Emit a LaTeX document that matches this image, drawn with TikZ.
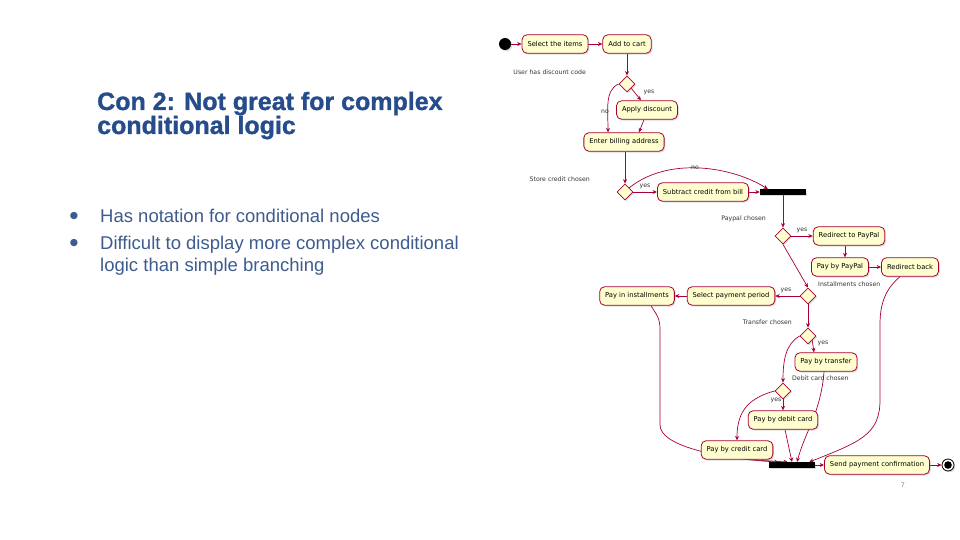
\documentclass[tikz,border=0pt]{standalone}
\usepackage{fontspec}
\usetikzlibrary{shapes.geometric,arrows.meta,calc,shadows}
\setmainfont{Liberation Sans}
\newfontfamily\umlfont{DejaVu Sans}
\newfontfamily\headfont[FakeBold=1.2]{Liberation Sans Bold}
\definecolor{umlred}{HTML}{A80036}
\definecolor{umlfill}{HTML}{FEFECE}
\definecolor{titleblue}{HTML}{264C8C}
\definecolor{bodyblue}{HTML}{3D5B8F}
\pgfdeclarelayer{wires}
\pgfsetlayers{wires,main}

\begin{document}
\begin{tikzpicture}[x=1pt,y=-1pt,
  every node/.style={inner sep=0pt},
  umlshadow/.style={drop shadow={shadow xshift=1.3pt, shadow yshift=-1.3pt, opacity=0.28}},
  act/.style={draw=umlred, fill=umlfill, line width=0.8pt, rounded corners=5pt,
    minimum height=18.5pt, inner xsep=5.5pt,
    font=\umlfont\fontsize{6.75}{8}\selectfont, umlshadow},
  dec/.style={diamond, draw=umlred, fill=umlfill, line width=0.8pt,
    minimum width=16pt, minimum height=16pt, umlshadow},
  syncbar/.style={rectangle, fill=black, minimum width=46pt, minimum height=5.5pt, umlshadow},
  flow/.style={draw=umlred, line width=0.7pt, -{Stealth[length=4.5pt,width=4pt]}},
  guard/.style={font=\umlfont\fontsize{6.2}{7}\selectfont, text=black!80},
  bullet/.style={font=\umlfont\fontsize{9.5}{10}\selectfont, text=bodyblue},
  body/.style={font=\fontsize{18.5}{22}\selectfont, text=bodyblue, anchor=base west},
  heading/.style={font=\headfont\fontsize{25}{28}\selectfont, text=titleblue, anchor=base west}
]
\useasboundingbox (0,0) rectangle (960,540);

% slide text
\node[heading] (t1) at (97,110) {Con 2: Not great for complex};
\node[heading] (t2) at (97,134) {conditional logic};
\node[bullet] (b1) at (74,216) {●};
\node[body] (l1) at (100,222) {Has notation for conditional nodes};
\node[bullet] (b2) at (74,243) {●};
\node[body] (l2) at (100,249) {Difficult to display more complex conditional};
\node[body] (l3) at (100,271) {logic than simple branching};
\node[font=\fontsize{6.5}{7}\selectfont, text=black!55] (pg) at (903,485) {7};

% activity diagram: nodes
\node[circle, fill=black, minimum size=12pt, umlshadow] (start) at (505,44) {};
\node[act] (sel) at (555,44) {Select the items};
\node[act] (cart) at (627,44) {Add to cart};
\node[dec] (d1) at (627,84) {};
\node[act] (apply) at (647,110) {Apply discount};
\node[act] (bill) at (624,142) {Enter billing address};
\node[dec] (d2) at (625,192) {};
\node[act] (sub) at (703,192) {Subtract credit from bill};
\node[syncbar] (bar1) at (783,192) {};
\node[dec] (d3) at (783,236) {};
\node[act] (rpp) at (849,236) {Redirect to PayPal};
\node[act] (ppp) at (840,267) {Pay by PayPal};
\node[act] (rb) at (910,267) {Redirect back};
\node[dec] (d4) at (808,296) {};
\node[act] (spp) at (731,296) {Select payment period};
\node[act] (pin) at (637,296) {Pay in installments};
\node[dec] (d5) at (808,336) {};
\node[act] (ptr) at (826,362) {Pay by transfer};
\node[dec] (d6) at (783,391) {};
\node[act] (pdc) at (783,420) {Pay by debit card};
\node[act] (pcc) at (737,450) {Pay by credit card};
\node[syncbar] (bar2) at (792,465) {};
\node[act] (spc) at (877,465) {Send payment confirmation};
\node[circle, draw=black, line width=0.8pt, fill=white, minimum size=12pt, umlshadow] (end) at (948,465) {};
\fill[black] (end.center) circle (3.8pt);

% guard labels
\node[guard, anchor=east] (g1) at (586,72) {User has discount code};
\node[guard] (y1) at (649,92) {yes};
\node[guard] (n1) at (605,112) {no};
\node[guard, anchor=east] (g2) at (590,179) {Store credit chosen};
\node[guard] (y2) at (645,186) {yes};
\node[guard] (n2) at (695,168) {no};
\node[guard, anchor=east] (g3) at (766,219) {Paypal chosen};
\node[guard] (y3) at (802,230) {yes};
\node[guard, anchor=west] (g4) at (818,284) {Installments chosen};
\node[guard] (y4) at (786,290) {yes};
\node[guard, anchor=east] (g5) at (792,322) {Transfer chosen};
\node[guard] (y5) at (823,343) {yes};
\node[guard, anchor=west] (g6) at (792,378) {Debit card chosen};
\node[guard] (y6) at (776,400) {yes};

% routing points of the long joins
\coordinate (rbA) at (880,325);
\coordinate (rbB) at (880,400);
\coordinate (pinA) at (660,330);
\coordinate (pinB) at (660,425);

% connectors, kept beneath the boxes
\begin{pgfonlayer}{wires}
\draw[flow] (start) -- (sel);
\draw[flow] (sel) -- (cart);
\draw[flow] (cart) -- (d1);
\draw[flow] (d1.south east) -- ($(apply.north)+(-6,0)$);
\draw[flow] (d1.west) .. controls +(-14,6) and +(0,-22) .. ($(bill.north)+(-16,0)$);
\draw[flow] ($(apply.south)+(-3,0)$) -- ($(bill.north)+(15,0)$);
\draw[flow] (bill.south -| d2) -- (d2.north);
\draw[flow] (d2) -- (sub);
\draw[flow] (d2.north east) .. controls +(40,-32) and +(-35,-22) .. ($(bar1.north west)+(8,0)$);
\draw[flow] (sub) -- (bar1);
\draw[flow] (bar1) -- (d3);
\draw[flow] (d3) -- (rpp);
\draw[flow] ($(rpp.south)+(-4,0)$) -- ($(ppp.north)+(5,0)$);
\draw[flow] (ppp) -- (rb);
\draw[flow] (d3.south) -- (d4.north);
\draw[flow] (d4) -- (spp);
\draw[flow] (spp) -- (pin);
\draw[flow] (d4) -- (d5);
\draw[flow] (d5.south east) -- ($(ptr.north)+(-12,0)$);
\draw[flow] (d5.west) .. controls +(-14,8) and +(0,-22) .. (d6.north);
\draw[flow] (d6) -- (pdc);
\draw[flow] (d6.west) .. controls +(-30,8) and +(0,-25) .. (pcc.north);
\draw[flow] ($(rb.south)+(-10,0)$) .. controls +(-18,15) and +(0,-15) .. (rbA) -- (rbB)
  .. controls +(0,35) and +(50,-20) .. ($(bar2.north east)+(-6,0)$);
\draw[flow] ($(pin.south)+(14,0)$) .. controls +(6,10) and +(0,-12) .. (pinA) -- (pinB)
  .. controls +(0,22) and +(-55,-3) .. ($(bar2.north west)+(10,0)$);
\draw[flow] ($(ptr.south)+(-2,0)$) .. controls +(-3,40) and +(8,-30) .. ($(bar2.north)+(5,0)$);
\draw[flow] ($(pdc.south)+(2,0)$) -- (bar2.north);
\draw[flow] ($(pcc.south)+(12,0)$) -- ($(bar2.north)+(-4,0)$);
\draw[flow] (bar2) -- (spc);
\draw[flow] (spc) -- (end);
\end{pgfonlayer}
\end{tikzpicture}
\end{document}
